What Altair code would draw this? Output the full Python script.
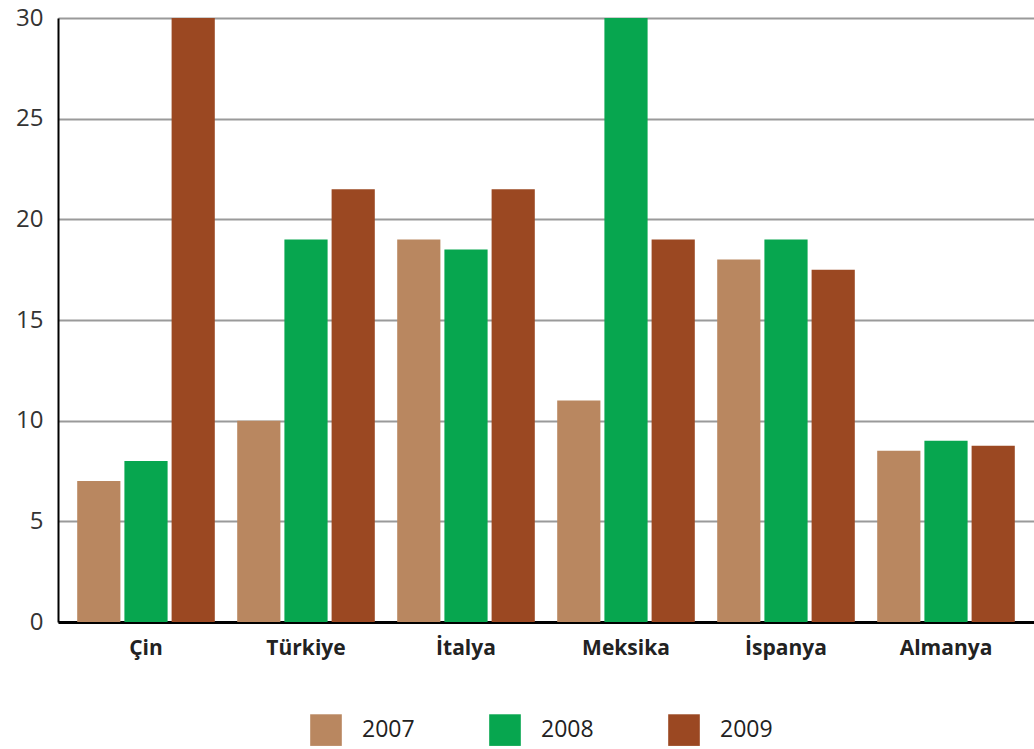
import altair as alt
import pandas as pd

countries = ["Çin", "Türkiye", "İtalya", "Meksika", "İspanya", "Almanya"]
years = ["2007", "2008", "2009"]
v2007 = [7, 10, 19, 11, 18, 8.5]
v2008 = [8, 19, 18.5, 30, 19, 9]
v2009 = [30, 21.5, 21.5, 19, 17.5, 8.75]
colors = ["#B98760", "#07A64F", "#9B4822"]

rows = []
for i, c in enumerate(countries):
    for y, vals in zip(years, [v2007, v2008, v2009]):
        rows.append({"Ülke": c, "Yıl": y, "Değer": vals[i]})
df = pd.DataFrame(rows)

FONT = "Open Sans"

chart = alt.Chart(df).mark_bar().encode(
    x=alt.X("Ülke:N", sort=countries, title=None,
            scale=alt.Scale(paddingInner=0.14, paddingOuter=0.12),
            axis=alt.Axis(labelAngle=0, labelFont=FONT, labelFontSize=21,
                          labelFontWeight="bold", labelColor="#222",
                          labelPadding=15, ticks=False, domainColor="#000",
                          domainWidth=3, grid=False, zindex=0)),
    xOffset=alt.XOffset("Yıl:N", sort=years,
                        scale=alt.Scale(paddingInner=0.085)),
    y=alt.Y("Değer:Q", title=None,
            scale=alt.Scale(domain=[0, 30], nice=False),
            axis=alt.Axis(values=[0, 5, 10, 15, 20, 25, 30], labelFont=FONT,
                          labelFontSize=24, labelColor="#333", labelPadding=15,
                          ticks=False, domainColor="#000", domainWidth=2,
                          gridColor="#9a9a9a", gridWidth=2, gridOpacity=1,
                          zindex=0)),
    color=alt.Color("Yıl:N", sort=years,
                    scale=alt.Scale(domain=years, range=colors),
                    legend=alt.Legend(title=None, orient="none", direction="horizontal",
                                      legendX=252, legendY=696,
                                      symbolType="square", symbolSize=1000,
                                      symbolStrokeWidth=0, symbolOpacity=1,
                                      labelFont=FONT, labelFontSize=23,
                                      labelColor="#222", labelOffset=20,
                                      columnPadding=74)),
).properties(
    width=976, height=604,
    autosize=alt.AutoSizeParams(type="none"),
    padding={"left": 58, "top": 18, "right": 0, "bottom": 127},
).configure_view(stroke=None).configure(background="white")

chart.save("out.html", embed_options={"renderer": "svg", "actions": False})
